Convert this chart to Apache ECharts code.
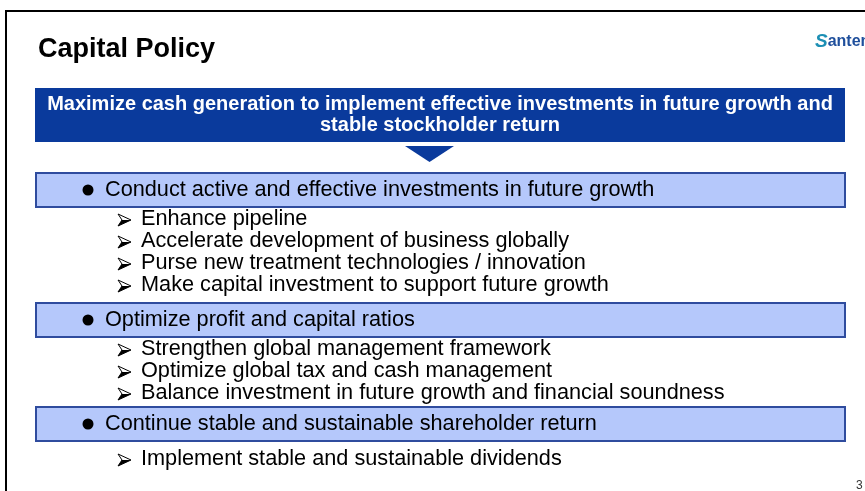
<!DOCTYPE html>
<html>
<head>
<meta charset="utf-8">
<script src="https://cdn.jsdelivr.net/npm/echarts@6/dist/echarts.min.js"></script>
<style>
  html, body { margin: 0; padding: 0; background: #fff; }
  #slide { width: 865px; height: 491px; }
</style>
</head>
<body>
<div id="slide"></div>
<script>
  // slide texts
  const slideTitle = 'Capital Policy';
  const logoText = ['S', 'anten'];
  const mainMessage = [
    'Maximize cash generation to implement effective investments in future growth and',
    'stable stockholder return'
  ];
  const policyHeads = [
    'Conduct active and effective investments in future growth',
    'Optimize profit and capital ratios',
    'Continue stable and sustainable shareholder return'
  ];
  const policyItems = [
    ['Enhance pipeline',
     'Accelerate development of business globally',
     'Purse new treatment technologies / innovation',
     'Make capital investment to support future growth'],
    ['Strengthen global management framework',
     'Optimize global tax and cash management',
     'Balance investment in future growth and financial soundness'],
    ['Implement stable and sustainable dividends']
  ];
  const pageNo = '3';

  let chart = echarts.init(document.getElementById('slide'));

  const FONT = '"Liberation Sans", Arial, sans-serif';
  const DARK = '#0a3a9c';
  const boxTop = [173, 303, 407];   // top of each light box
  const boxH = 34;
  const itemGap = 22;               // spacing of the sub items

  let els = [];

  // slide frame
  els.push({ type: 'line', shape: { x1: 6, y1: 11, x2: 865, y2: 11 }, style: { stroke: '#000', lineWidth: 2 } });
  els.push({ type: 'line', shape: { x1: 6, y1: 10, x2: 6, y2: 491 }, style: { stroke: '#000', lineWidth: 2 } });

  // title
  els.push({ type: 'text', x: 38, y: 50, style: {
    text: slideTitle, font: 'bold 27px ' + FONT, fill: '#000', verticalAlign: 'middle'
  }});

  // logo
  els.push({ type: 'text', x: 815, y: 42, style: {
    text: '{s|' + logoText[0] + '}{t|' + logoText[1] + '}', verticalAlign: 'middle',
    rich: {
      s: { font: 'bold italic 19px ' + FONT, fill: '#1c8fb4' },
      t: { font: 'bold 16px "Liberation Sans Narrow", ' + FONT, fill: '#1f4f9c' }
    }
  }});

  // main message banner
  els.push({ type: 'rect', shape: { x: 35, y: 88, width: 810, height: 54 }, style: { fill: DARK } });
  mainMessage.forEach(function (t, i) {
    els.push({ type: 'text', x: 440, y: 104 + i * 21, style: {
      text: t, font: 'bold 20px ' + FONT, fill: '#fff', align: 'center', verticalAlign: 'middle'
    }});
  });

  // down arrow
  els.push({ type: 'polygon', shape: { points: [[405, 146], [454, 146], [429.5, 162]] }, style: { fill: DARK } });

  // ➢ style arrowhead for sub items
  function arrowHead(x, cy) {
    els.push({ type: 'polygon', shape: { points: [[x, cy - 6], [x + 13, cy], [x, cy + 6], [x + 4, cy]] },
      style: { fill: '#fff', stroke: '#000', lineWidth: 1 } });
    els.push({ type: 'polygon', shape: { points: [[x + 4, cy], [x + 13, cy], [x, cy + 6]] },
      style: { fill: '#000' } });
  }

  // policy boxes with sub items
  policyHeads.forEach(function (head, i) {
    let top = boxTop[i];
    els.push({ type: 'rect', shape: { x: 36, y: top, width: 809, height: boxH },
      style: { fill: '#b5c8fb', stroke: '#2f4c9e', lineWidth: 2 } });
    els.push({ type: 'circle', shape: { cx: 88, cy: top + 17, r: 5.5 }, style: { fill: '#000' } });
    els.push({ type: 'text', x: 105, y: top + 17, style: {
      text: head, font: '21.7px ' + FONT, fill: '#000', verticalAlign: 'middle'
    }});
    policyItems[i].forEach(function (item, j) {
      let cy = top + boxH + 12 + j * itemGap + (i === 2 ? 6 : 0);
      arrowHead(118, cy + 1);
      els.push({ type: 'text', x: 141, y: cy, style: {
        text: item, font: '21.7px ' + FONT, fill: '#000', verticalAlign: 'middle'
      }});
    });
  });

  // page number (cut off at the edge)
  els.push({ type: 'text', x: 856, y: 486, style: {
    text: pageNo, font: '12px ' + FONT, fill: '#333', verticalAlign: 'middle'
  }});

  let option = {
    backgroundColor: '#fff',
    animation: false,
    graphic: { elements: els }
  };
  chart.setOption(option);
</script>
</body>
</html>
